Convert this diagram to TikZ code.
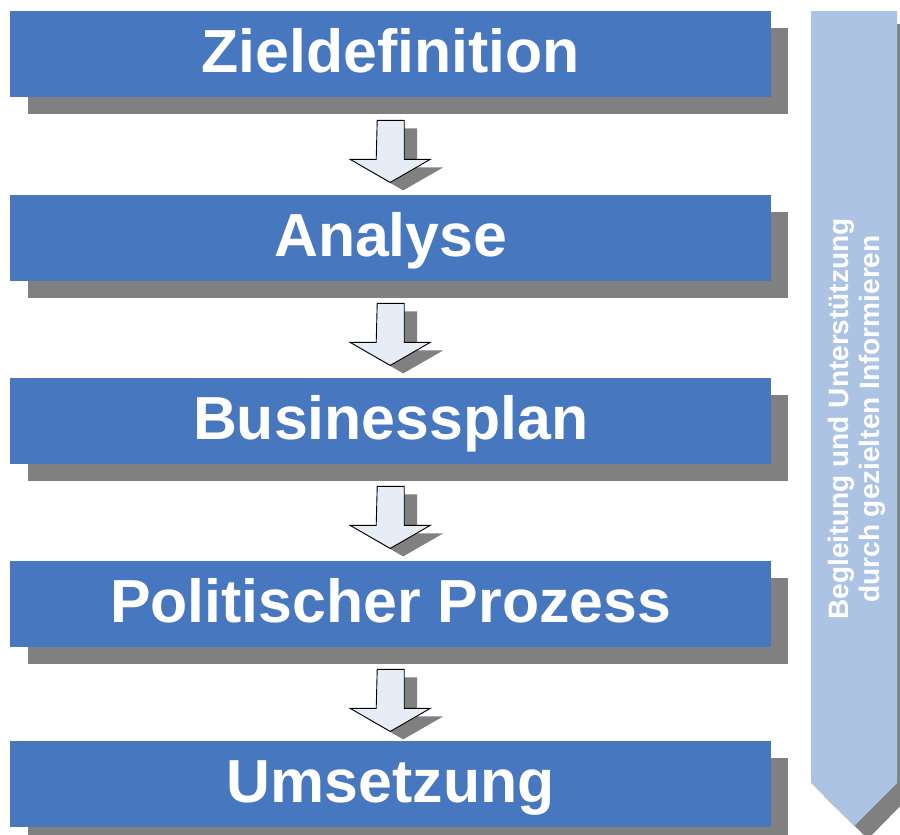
\documentclass[tikz,border=0pt]{standalone}
\usepackage{fontspec}
\setmainfont{Liberation Sans}
\usetikzlibrary{calc,backgrounds}
\definecolor{boxblue}{HTML}{4777BF}
\definecolor{shadowgray}{HTML}{808080}
\definecolor{sideblue}{HTML}{ADC3E3}
\definecolor{arrowfill}{HTML}{E7EDF7}
\tikzset{
  stagebox/.style={fill=boxblue, minimum width=761pt, minimum height=86pt, inner sep=0pt,
    anchor=north west, text=white, font=\fontsize{60.8}{72}\selectfont\bfseries,
    text height=43pt, text depth=7pt},
  stageshadow/.style={fill=shadowgray},
  flowarrow/.pic={
    \fill[shadowgray] (13-13.5,8) -- ++(27,0) -- ++(0,39) -- ++(26,0) -- ++(-40,23) -- ++(-40,-23) -- ++(26,0) -- cycle;
    \draw[fill=arrowfill, line width=0.9pt, line join=miter] (-13.5,0) -- ++(27,0) -- ++(0,39) -- ++(26,0) -- ++(-40,23) -- ++(-40,-23) -- ++(26,0) -- cycle;
  },
  sidetext/.style={text=white, font=\fontsize{28}{31}\selectfont\bfseries, align=center, rotate=90, inner sep=0pt}
}
\begin{document}
\begin{tikzpicture}[x=1pt,y=-1pt]
\useasboundingbox (0,0) rectangle (900,835);
% side arrow with shadow
\fill[shadowgray] (824,24) -- (910,24) -- (910,796) -- (868,839) -- (824,796) -- cycle;
\fill[sideblue] (811,11) -- (897,11) -- (897,783) -- (854,826) -- (811,783) -- cycle;
\node[sidetext] (side) at (857,419) {Begleitung und Unterstützung\\durch gezielten Informieren};
% stage boxes
\node[stagebox] (b1) at (10,11) {Zieldefinition};
\node[stagebox] (b2) at (10,195) {Analyse};
\node[stagebox] (b3) at (10,378) {Businessplan};
\node[stagebox] (b4) at (10,561) {Politischer Prozess};
\node[stagebox] (b5) at (10,741) {Umsetzung};
\begin{pgfonlayer}{background}
\foreach \b in {b1,b2,b3,b4,b5}{
  \fill[stageshadow] ($(\b.north west)+(18,17)$) rectangle ($(\b.south east)+(17,17)$);
}
\end{pgfonlayer}
% arrows between stages
\coordinate (a1) at ($(b1.south)+(0,23)$);
\coordinate (a2) at ($(b2.south)+(0,22)$);
\coordinate (a3) at ($(b3.south)+(0,22)$);
\coordinate (a4) at ($(b4.south)+(0,22)$);
\foreach \a in {a1,a2,a3,a4}{
  \pic at (\a) {flowarrow};
}
\end{tikzpicture}
\end{document}
